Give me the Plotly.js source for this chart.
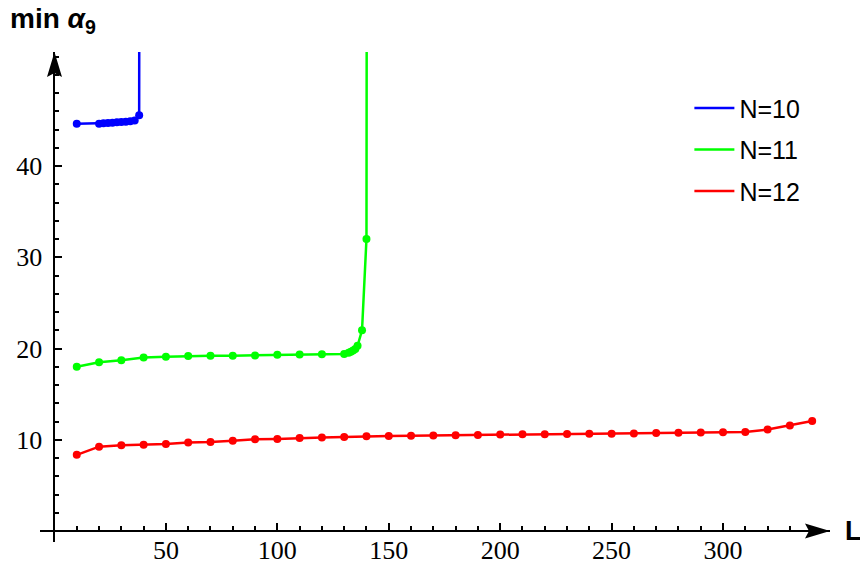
<!DOCTYPE html>
<html>
<head>
<meta charset="utf-8">
<script src="https://cdn.plot.ly/plotly-3.0.1.min.js"></script>
<style>html,body{margin:0;padding:0;background:#fff;}#chart{width:860px;height:563px;}</style>
</head>
<body>
<div id="chart"></div>
<script>
// Data
var seriesNames = ['N=10', 'N=11', 'N=12'];
var colors = ['#0000ff', '#00ff00', '#ff0000'];

var xN10 = [10, 20, 22, 24, 26, 28, 30, 32, 34, 36, 38, 38.2];
var yN10 = [44.65, 44.65, 44.7, 44.72, 44.75, 44.8, 44.82, 44.85, 44.9, 45.0, 45.56, 100];

var xN11 = [10, 20, 30, 40, 50, 60, 70, 80, 90, 100, 110, 120, 130, 132, 133, 134, 135, 136, 138, 140, 140.3];
var yN11 = [18.0, 18.5, 18.73, 19.03, 19.1, 19.18, 19.2, 19.22, 19.25, 19.33, 19.35, 19.37, 19.4, 19.55, 19.65, 19.8, 19.95, 20.3, 22.0, 32.0, 100];

var xN12 = [10, 20, 30, 40, 50, 60, 70, 80, 90, 100, 110, 120, 130, 140, 150, 160, 170, 180, 190, 200,
            210, 220, 230, 240, 250, 260, 270, 280, 290, 300, 310, 320, 330, 340];
var yN12 = [8.35, 9.25, 9.4, 9.45, 9.55, 9.7, 9.75, 9.9, 10.05, 10.1, 10.2, 10.25, 10.3, 10.38, 10.42, 10.45, 10.48, 10.5, 10.52, 10.58,
            10.6, 10.62, 10.64, 10.65, 10.67, 10.7, 10.75, 10.78, 10.8, 10.82, 10.85, 11.12, 11.57, 12.05];

var xTickVals = [50, 100, 150, 200, 250, 300];
var yTickVals = [10, 20, 30, 40];

var xRange = [-6.5, 348];
var yRange = [-1.2, 52.5];

var xs = [xN10, xN11, xN12];
var ys = [yN10, yN11, yN12];

var traces = [];
for (var i = 0; i < 3; i++) {
  traces.push({
    x: xs[i], y: ys[i], type: 'scatter', mode: 'lines', name: seriesNames[i],
    legendgroup: 'g' + i, showlegend: true,
    line: {color: colors[i], width: 2.5}, hoverinfo: 'skip'
  });
}
for (var j = 0; j < 3; j++) {
  var n = (j < 2 ? xs[j].length - 1 : xs[j].length);
  traces.push({
    x: xs[j].slice(0, n), y: ys[j].slice(0, n),
    type: 'scatter', mode: 'markers', name: seriesNames[j],
    legendgroup: 'g' + j, showlegend: false,
    marker: {color: colors[j], size: 8}, hoverinfo: 'skip'
  });
}

var sans = 'Liberation Sans';
var tickFontFamily = "'Liberation Serif', 'Times New Roman', serif";

var layout = {
  width: 860, height: 563,
  margin: {l: 40, r: 30, t: 52, b: 21},
  paper_bgcolor: '#fff', plot_bgcolor: '#fff',
  font: {family: sans, size: 20, color: '#000'},
  showlegend: true,
  legend: {
    x: 0.822, y: 0.932, xanchor: 'left', yanchor: 'top',
    font: {family: sans, size: 25, color: '#000'},
    bgcolor: 'rgba(0,0,0,0)', borderwidth: 0,
    tracegroupgap: 6, itemwidth: 40
  },
  xaxis: {
    range: xRange, anchor: 'free', position: (0 - yRange[0]) / (yRange[1] - yRange[0]),
    showgrid: false, zeroline: false, showline: true, linecolor: '#000', linewidth: 2,
    tickmode: 'array', tickvals: xTickVals, ticks: 'inside', ticklen: 7, tickwidth: 2, tickcolor: '#000',
    minor: {dtick: 10, tick0: 0, ticks: 'inside', ticklen: 4, tickwidth: 2, tickcolor: '#000', showgrid: false},
    tickfont: {family: tickFontFamily, size: 26, color: '#000'},
    ticklabelstandoff: -4
  },
  yaxis: {
    range: yRange, anchor: 'free', position: (0 - xRange[0]) / (xRange[1] - xRange[0]),
    showgrid: false, zeroline: false, showline: true, linecolor: '#000', linewidth: 2,
    tickmode: 'array', tickvals: yTickVals, ticks: 'inside', ticklen: 7, tickwidth: 2, tickcolor: '#000',
    minor: {dtick: 2, tick0: 0, ticks: 'inside', ticklen: 4, tickwidth: 2, tickcolor: '#000', showgrid: false},
    tickfont: {family: tickFontFamily, size: 26, color: '#000'},
    ticklabelstandoff: 6
  },
  shapes: [
    {type: 'path', xref: 'x', yref: 'y', xsizemode: 'pixel', ysizemode: 'pixel',
     xanchor: xRange[1], yanchor: 0,
     path: 'M0,0 L-25,7.5 L-21,0 L-25,-7.5 Z', fillcolor: '#000', line: {width: 0}},
    {type: 'path', xref: 'x', yref: 'y', xsizemode: 'pixel', ysizemode: 'pixel',
     xanchor: 0, yanchor: yRange[1],
     path: 'M0,0 L7.5,-25 L0,-21 L-7.5,-25 Z', fillcolor: '#000', line: {width: 0}}
  ],
  annotations: [
    {text: '<b>min <i>α</i><sub>9</sub></b>', xref: 'paper', yref: 'paper',
     x: -0.04, y: 1.065, xanchor: 'left', yanchor: 'middle', showarrow: false,
     font: {family: sans, size: 28, color: '#000'}},
    {text: '<b>L</b>', xref: 'paper', yref: 'y',
     x: 1.016, y: 0, xanchor: 'left', yanchor: 'middle', showarrow: false,
     font: {family: sans, size: 27, color: '#000'}}
  ]
};

Plotly.newPlot('chart', traces, layout, {displayModeBar: false, staticPlot: true});
</script>
</body>
</html>
